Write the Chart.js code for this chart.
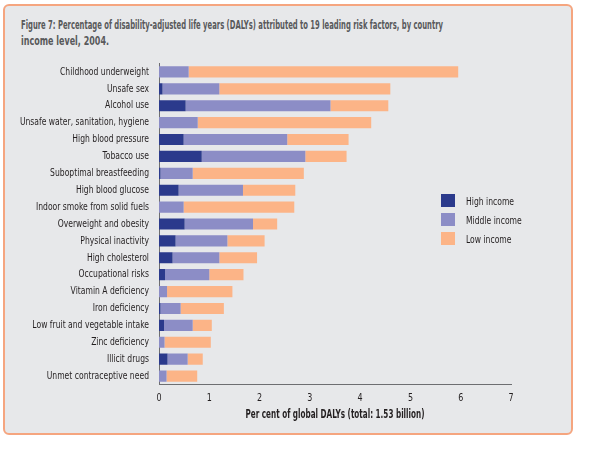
<!DOCTYPE html>
<html>
<head>
<meta charset="utf-8">
<script src="https://cdn.jsdelivr.net/npm/chart.js@4.4.0/dist/chart.umd.min.js"></script>
<style>
  html, body { margin: 0; padding: 0; background: #ffffff; }
  #wrap { position: relative; width: 609px; height: 457px; overflow: hidden; }
  #panel { position: absolute; left: 3px; top: 4px; width: 566px; height: 427px;
           border: 2px solid #f5a57f; border-radius: 6px; background: #e7e8ea; }
  .tl { position: absolute; left: 20.5px; font-family: "Liberation Sans Narrow", "DejaVu Sans Condensed", sans-serif;
        font-weight: bold; font-size: 13px; line-height: 16px; color: #58595b; white-space: nowrap;
        transform-origin: 0 0; }
  canvas { position: absolute; left: 0; top: 0; }
</style>
</head>
<body>
<div id="wrap">
  <div id="panel"></div>
  <div class="tl" id="t1" style="top:16.8px">Figure 7: Percentage of disability-adjusted life years (DALYs) attributed to 19 leading risk factors, by country</div>
  <div class="tl" id="t2" style="top:32.8px">income level, 2004.</div>
  <canvas id="c" width="609" height="457"></canvas>
</div>
<script>
const categories = [
  "Childhood underweight", "Unsafe sex", "Alcohol use", "Unsafe water, sanitation, hygiene",
  "High blood pressure", "Tobacco use", "Suboptimal breastfeeding", "High blood glucose",
  "Indoor smoke from solid fuels", "Overweight and obesity", "Physical inactivity",
  "High cholesterol", "Occupational risks", "Vitamin A deficiency", "Iron deficiency",
  "Low fruit and vegetable intake", "Zinc deficiency", "Illicit drugs", "Unmet contraceptive need"
];
const highIncome   = [0.00, 0.07, 0.53, 0.00, 0.49, 0.85, 0.03, 0.39, 0.00, 0.51, 0.33, 0.27, 0.12, 0.00, 0.03, 0.10, 0.00, 0.17, 0.00];
const middleIncome = [0.59, 1.13, 2.88, 0.77, 2.06, 2.06, 0.64, 1.28, 0.49, 1.36, 1.03, 0.93, 0.88, 0.16, 0.40, 0.57, 0.11, 0.40, 0.15];
const lowIncome    = [5.36, 3.40, 1.15, 3.45, 1.22, 0.82, 2.21, 1.04, 2.20, 0.48, 0.74, 0.75, 0.68, 1.30, 0.86, 0.38, 0.92, 0.30, 0.61];
const seriesNames  = ["High income", "Middle income", "Low income"];
const xTicks       = [0, 1, 2, 3, 4, 5, 6, 7];
const xTitle       = "Per cent of global DALYs (total: 1.53 billion)";

const FONT = "'Liberation Sans Narrow', 'DejaVu Sans Condensed', sans-serif";
const colors = ["#2b3a8c", "#8c8dc6", "#fcb487"];

// Title lines: condense horizontally to match the reference's condensed typeface
[['t1', 422], ['t2', 88]].forEach(([id, target]) => {
  const el = document.getElementById(id);
  el.style.transform = 'scaleX(' + (target / el.getBoundingClientRect().width) + ')';
});

// Condensed text rendering: compress glyphs horizontally via fillText maxWidth
const canvas = document.getElementById('c');
const ctx0 = canvas.getContext('2d');
const origFillText = ctx0.fillText;
ctx0.fillText = function (text, x, y, maxW) {
  const f = /bold/.test(this.font) ? 0.70 : 0.81;
  const w = this.measureText(String(text)).width * f;
  return origFillText.call(this, text, x, y, (maxW !== undefined && maxW < w) ? maxW : w);
};

const legendPlugin = {
  id: 'customLegend',
  afterDraw(chart) {
    const ctx = chart.ctx;
    ctx.save();
    ctx.font = "10.5px " + FONT;
    ctx.textBaseline = 'alphabetic';
    ctx.textAlign = 'left';
    chart.data.datasets.forEach((ds, i) => {
      const y = 194 + i * 19;
      ctx.fillStyle = ds.backgroundColor;
      ctx.fillRect(441, y, 14, 13);
      ctx.fillStyle = "#231f20";
      ctx.fillText(ds.label, 466, y + 10.5);
    });
    ctx.restore();
  }
};

new Chart(canvas, {
  type: 'bar',
  data: {
    labels: categories,
    datasets: [
      { label: seriesNames[0], data: highIncome, backgroundColor: colors[0] },
      { label: seriesNames[1], data: middleIncome, backgroundColor: colors[1] },
      { label: seriesNames[2], data: lowIncome, backgroundColor: colors[2] }
    ]
  },
  options: {
    indexAxis: 'y',
    responsive: false,
    animation: false,
    devicePixelRatio: 1,
    datasets: { bar: { categoryPercentage: 1, barPercentage: 0.66, borderWidth: 0 } },
    layout: { padding: { left: 0, right: 98, top: 63.5, bottom: 0 } },
    plugins: { legend: { display: false }, tooltip: { enabled: false }, title: { display: false } },
    scales: {
      x: {
        stacked: true, min: 0, max: 7,
        afterBuildTicks(scale) { scale.ticks = xTicks.map(v => ({ value: v })); },
        afterFit(scale) { scale.height = 457 - 384.5; },
        grid: { display: false, drawTicks: false },
        border: { display: true, color: "#6d6e71", width: 1 },
        ticks: { padding: 7, color: "#231f20", font: { family: FONT, size: 11 } },
        title: { display: true, text: xTitle, color: "#231f20", padding: { top: 0, bottom: 35 },
                 font: { family: FONT, size: 11.5, weight: 'bold' } }
      },
      y: {
        stacked: true,
        afterFit(scale) { scale.width = 159; },
        grid: { display: false, drawTicks: false },
        border: { display: true, color: "#6d6e71", width: 1 },
        ticks: { padding: 10, color: "#231f20", autoSkip: false, font: { family: FONT, size: 10.5 } }
      }
    }
  },
  plugins: [legendPlugin]
});
</script>
</body>
</html>
